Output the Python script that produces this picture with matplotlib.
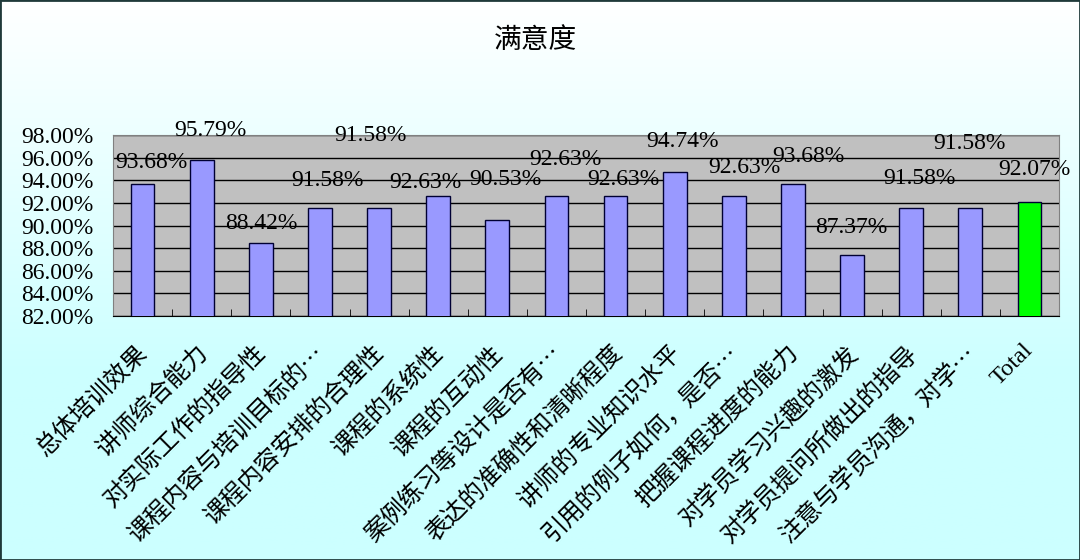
import matplotlib.pyplot as plt
import matplotlib.transforms as mtransforms
import numpy as np
from matplotlib.ticker import FuncFormatter

categories = ['总体培训效果', '讲师综合能力', '对实际工作的指导性', '课程内容与培训目标的…',
              '课程内容安排的合理性', '课程的系统性', '课程的互动性', '案例练习等设计是否有…',
              '表达的准确性和清晰程度', '讲师的专业知识水平', '引用的例子如何，是否…',
              '把握课程进度的能力', '对学员学习兴趣的激发', '对学员提问所做出的指导',
              '注意与学员沟通，对学…', 'Total']
values = [93.68, 95.79, 88.42, 91.58, 91.58, 92.63, 90.53, 92.63,
          92.63, 94.74, 92.63, 93.68, 87.37, 91.58, 91.58, 92.07]
y_ticks = [82, 84, 86, 88, 90, 92, 94, 96, 98]

# where the value labels sit relative to each bar top (pixels)
label_dx = [9, 9, 0, 8, -9, -13, 8, 9, 8, 8, 11, 15, -1, 8, -1, 5]
label_dy = [21, 30, 20, 27, 72, 13, 40, 36, 16, 30, 28, 27, 28, 29, 64, 33]

serif = ['Liberation Serif', 'Noto Sans CJK SC']
cjk = ['Noto Sans CJK SC', 'DejaVu Sans']

fig = plt.figure(figsize=(10.8, 5.6), dpi=100)

# background gradient white -> light cyan
bg = fig.add_axes([0, 0, 1, 1], zorder=-10)
grad = np.linspace(0, 1, 256)[:, None]
top = np.array([1.0, 1.0, 1.0])
bottom = np.array([0.80, 1.0, 1.0])
t = np.clip(grad * 1.5, 0, 1)
img = top[None, None, :] * (1 - t[..., None]) + bottom[None, None, :] * t[..., None]
img = np.repeat(img, 2, axis=1)
bg.imshow(img, aspect='auto', extent=[0, 1, 0, 1], origin='upper')
bg.set_xlim(0, 1)
bg.set_ylim(0, 1)
for s in bg.spines.values():
    s.set_color('#1f3a3a')
    s.set_linewidth(2)
bg.set_xticks([])
bg.set_yticks([])

ax = fig.add_axes([113 / 1080, 1 - 316 / 560, 946 / 1080, 181 / 560])
ax.set_facecolor('#c0c0c0')
x = np.arange(len(categories))
colors = ['#9999ff'] * (len(categories) - 1) + ['#00ff00']
ax.bar(x, values, width=0.4, color=colors, edgecolor='#000033', linewidth=1, zorder=3)
ax.set_xlim(-0.5, len(categories) - 0.5)
ax.set_ylim(82, 98)
ax.set_yticks(y_ticks)
ax.yaxis.set_major_formatter(FuncFormatter(lambda v, p: f'{v:.2f}%'))
ax.yaxis.grid(True, color='black', linewidth=1, zorder=1)
ax.set_axisbelow(True)
for lbl in ax.get_yticklabels():
    lbl.set_family(serif)
    lbl.set_fontsize(17)
ax.tick_params(axis='y', length=0, pad=14)

ax.set_xticks(x)
ax.set_xticks(np.arange(len(categories) + 1) - 0.5, minor=True)
ax.tick_params(axis='x', which='major', length=0, pad=13)
ax.tick_params(axis='x', which='minor', direction='in', length=5, color='black')
ax.set_xticklabels(categories, rotation=45, ha='right', va='top',
                   rotation_mode='anchor', family=cjk, fontsize=17.5)
ax.get_xticklabels()[-1].set_family(serif)
shift = mtransforms.ScaledTranslation(-7 / 100, -6 / 100, fig.dpi_scale_trans)
for lbl in ax.get_xticklabels():
    lbl.set_transform(lbl.get_transform() + shift)

for s in ['top', 'right', 'left']:
    ax.spines[s].set_color('#808080')
ax.spines['bottom'].set_color('black')

for i, v in enumerate(values):
    ax.annotate(f'{v:.2f}%', (x[i], v), xytext=(label_dx[i], label_dy[i]),
                textcoords='offset pixels', ha='center', va='center',
                family=serif, fontsize=17, zorder=5, annotation_clip=False)

fig.text(535 / 1080, 1 - 40 / 560, '满意度', ha='center', va='center',
         family=cjk, fontsize=20)

fig.savefig('out.png', dpi=100)
